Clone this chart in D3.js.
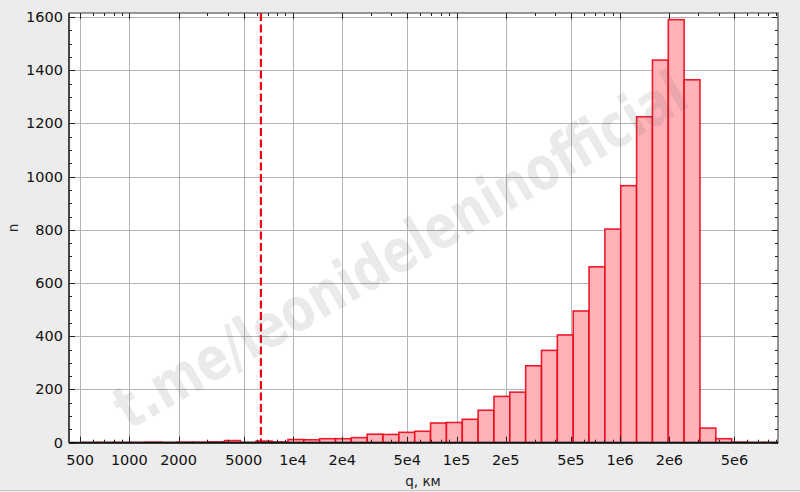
<!DOCTYPE html>
<html><head><meta charset="utf-8">
<script src="https://cdn.jsdelivr.net/npm/d3@7"></script>
<style>
html,body{margin:0;padding:0;background:#ececec;}
svg{display:block;}
text{font-family:"DejaVu Sans",Verdana,sans-serif;}
</style></head>
<body>
<svg id="chart" width="800" height="492"></svg>
<script>
// Histogram bin edges (q, km), log-spaced
const binEdges = [513, 641, 801, 1001, 1252, 1565, 1956, 2445, 3055, 3819, 4773, 5966, 7457, 9320,
  11650, 14562, 18201, 22751, 28437, 35540, 44420, 55530, 69400, 86740,
  108420, 135520, 169390, 211740, 264610, 330710, 413340, 516780, 645920, 807240,
  1009000, 1261200, 1576400, 1970500, 2462900, 3078100, 3847400, 4809500, 6011700, 7514000, 9391000];
// Counts per bin
const counts = [1, 1, 1, 1, 2, 1, 2, 2, 3, 8, 1, 6, 3, 12, 11, 15, 15, 19, 32, 31, 39, 43, 74, 76, 88,
  122, 174, 190, 289, 347, 405, 495, 661, 803, 966, 1225, 1438, 1590, 1364, 55, 15, 2, 1, 1];
const xTickValues = [500, 1000, 2000, 5000, 1e4, 2e4, 5e4, 1e5, 2e5, 5e5, 1e6, 2e6, 5e6];
const xTickLabels = ["500", "1000", "2000", "5000", "1e4", "2e4", "5e4", "1e5", "2e5", "5e5", "1e6", "2e6", "5e6"];
const yTickValues = [0, 200, 400, 600, 800, 1000, 1200, 1400, 1600];
const earthRadius = 6371;
const xLabel = "q, км";
const yLabel = "n";
const watermark = "t.me/leonideleninofficial";

const svg = d3.select("#chart");
const L = 69, R = 778, T = 13, B = 442.7;

const x = d3.scaleLog().domain([427.6, 9.23e6]).range([L, R]);
const y = d3.scaleLinear().domain([0, 1615]).range([B, T]);

// background
svg.append("rect").attr("x",0).attr("y",0).attr("width",800).attr("height",492).attr("fill","#ececec");
svg.append("line").attr("x1",0).attr("x2",800).attr("y1",490.5).attr("y2",490.5).attr("stroke","#c4c4c4");
svg.append("rect").attr("x",L).attr("y",T).attr("width",R-L).attr("height",B-T).attr("fill","#fff");

const defs = svg.append("defs");
defs.append("clipPath").attr("id","clip").append("rect")
  .attr("x",L).attr("y",T).attr("width",R-L).attr("height",B-T);

// gridlines
const grid = svg.append("g").attr("stroke","#b4b4b4").attr("stroke-width",1);
xTickValues.forEach(v => {
  const px = Math.round(x(v)) + 0.5;
  grid.append("line").attr("x1",px).attr("x2",px).attr("y1",T).attr("y2",B);
});
yTickValues.slice(1).forEach(v => {
  const py = Math.round(y(v)) + 0.5;
  grid.append("line").attr("x1",L).attr("x2",R).attr("y1",py).attr("y2",py);
});

// bars
const bins = counts.map((c,i) => ({x0: binEdges[i], x1: binEdges[i+1], n: c}));
svg.append("g").attr("clip-path","url(#clip)")
  .selectAll("rect").data(bins).join("rect")
  .attr("x", d => x(d.x0))
  .attr("width", d => x(d.x1) - x(d.x0))
  .attr("y", d => y(d.n))
  .attr("height", d => y(0) - y(d.n))
  .attr("fill", "rgb(255,178,183)")
  .attr("stroke", "rgba(235,0,20,0.88)")
  .attr("stroke-width", 1.6);

// Earth radius line
svg.append("line")
  .attr("x1", x(earthRadius)).attr("x2", x(earthRadius))
  .attr("y1", T).attr("y2", B)
  .attr("stroke", "#f00010").attr("stroke-width", 2.2)
  .attr("stroke-dasharray", "8,3.5");

// watermark
svg.append("text")
  .attr("transform", "translate(400,250) rotate(-30)")
  .attr("text-anchor","middle")
  .attr("dominant-baseline","central")
  .attr("font-family","'Liberation Sans',Arial,sans-serif")
  .attr("font-weight","bold")
  .attr("font-size", 60)
  .attr("textLength", 650)
  .attr("lengthAdjust","spacingAndGlyphs")
  .attr("fill","rgba(90,90,90,0.13)")
  .text(watermark);

// frame
const frame = svg.append("g");
frame.append("rect").attr("x",L).attr("y",T).attr("width",R-L).attr("height",B-T)
  .attr("fill","none").attr("stroke","#555").attr("stroke-width",1.2);
frame.append("line").attr("x1",L).attr("x2",R).attr("y1",B).attr("y2",B).attr("stroke","#111").attr("stroke-width",2);
frame.append("line").attr("x1",L).attr("x2",L).attr("y1",T).attr("y2",B).attr("stroke","#333").attr("stroke-width",1.6);

// x ticks (inward, bottom & top)
const xMinor = [];
for (let e = 2; e <= 6; e++) for (let k = 1; k <= 9; k++) {
  const v = k * Math.pow(10, e);
  if (v >= 427.6 && v <= 9.23e6 && !xTickValues.includes(v)) xMinor.push(v);
}
const tk = svg.append("g").attr("stroke","#222").attr("stroke-width",1);
xTickValues.forEach(v => {
  const px = Math.round(x(v)) + 0.5;
  tk.append("line").attr("x1",px).attr("x2",px).attr("y1",B).attr("y2",B-6);
  tk.append("line").attr("x1",px).attr("x2",px).attr("y1",T).attr("y2",T+6);
});
xMinor.forEach(v => {
  const px = Math.round(x(v)) + 0.5;
  tk.append("line").attr("x1",px).attr("x2",px).attr("y1",B).attr("y2",B-3);
  tk.append("line").attr("x1",px).attr("x2",px).attr("y1",T).attr("y2",T+3);
});
// y ticks (inward, left & right)
for (let v = 0; v <= 1600; v += 50) {
  const major = v % 200 === 0;
  const len = major ? 6 : 3;
  const py = Math.round(y(v)) + 0.5;
  tk.append("line").attr("x1",L).attr("x2",L+len).attr("y1",py).attr("y2",py);
  tk.append("line").attr("x1",R).attr("x2",R-len).attr("y1",py).attr("y2",py);
}

// tick labels
svg.append("g").selectAll("text").data(xTickValues).join("text")
  .attr("x", d => x(d)).attr("y", B + 22)
  .attr("text-anchor","middle").attr("font-size",14.5).attr("fill","#111")
  .text((d,i) => xTickLabels[i]);
svg.append("g").selectAll("text").data(yTickValues).join("text")
  .attr("x", L - 6).attr("y", d => y(d) + 5)
  .attr("text-anchor","end").attr("font-size",14.5).attr("fill","#111")
  .text(d => d);

// axis labels
svg.append("text").attr("x", 423).attr("y", 486)
  .attr("text-anchor","middle").attr("font-size",13.5).attr("fill","#222").text(xLabel);
svg.append("text").attr("transform","translate(18,228) rotate(-90)")
  .attr("text-anchor","middle").attr("font-size",13.5).attr("fill","#222").text(yLabel);
</script>
</body></html>
